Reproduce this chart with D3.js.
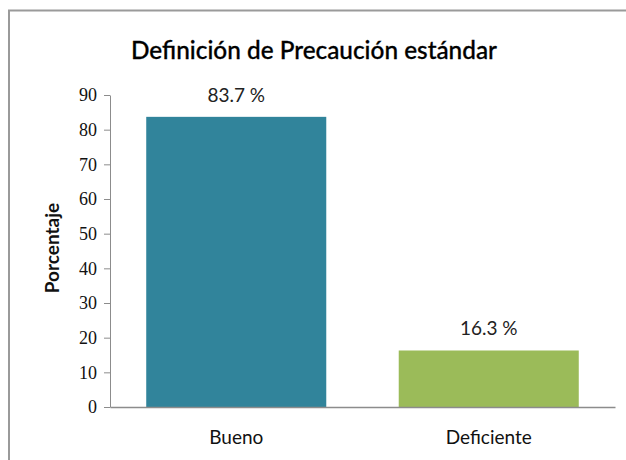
<!DOCTYPE html>
<html>
<head>
<meta charset="utf-8">
<script src="https://cdn.jsdelivr.net/npm/d3@7"></script>
<style>
  body { margin: 0; background: #fff; }
</style>
</head>
<body>
<svg width="626" height="460"></svg>
<script>
const categories = ['Bueno', 'Deficiente']
const values = [83.7, 16.3]
const labels = ['83.7 %', '16.3 %']
const yTicks = [0, 10, 20, 30, 40, 50, 60, 70, 80, 90]
const colors = ['#31849B', '#9BBB59']

const width = 626
const height = 460
const margin = { top: 95, right: 11, bottom: 53, left: 110 }

const svg = d3.select('svg')

// outer frame (runs off right and bottom)
svg.append('rect')
  .attr('x', 9)
  .attr('y', 10.5)
  .attr('width', 640)
  .attr('height', 480)
  .attr('fill', 'none')
  .attr('stroke', '#9a9a9a')
  .attr('stroke-width', 2)

// title
svg.append('text')
  .attr('x', 314)
  .attr('y', 59)
  .attr('text-anchor', 'middle')
  .attr('font-family', 'Lato, sans-serif')
  .attr('font-size', 24)
  .attr('font-weight', 500)
  .attr('fill', '#000')
  .attr('stroke', '#000')
  .attr('stroke-width', 0.3)
  .attr('textLength', 366)
  .attr('lengthAdjust', 'spacingAndGlyphs')
  .text('Definición de Precaución estándar')

// scales
const xScale = d3.scaleBand()
  .domain(categories)
  .range([margin.left, width - margin.right])
  .paddingInner(0.287)
  .paddingOuter(0.1435)

const yScale = d3.scaleLinear()
  .domain([0, 90])
  .range([height - margin.bottom, margin.top])

// bars
svg.selectAll('rect.bar')
  .data(values)
  .enter().append('rect')
  .attr('class', 'bar')
  .attr('x', (d, i) => xScale(categories[i]))
  .attr('y', d => yScale(d))
  .attr('width', xScale.bandwidth())
  .attr('height', d => yScale(0) - yScale(d))
  .attr('fill', (d, i) => colors[i])

// value labels
svg.selectAll('text.value')
  .data(values)
  .enter().append('text')
  .attr('class', 'value')
  .attr('x', (d, i) => xScale(categories[i]) + xScale.bandwidth() / 2)
  .attr('y', d => yScale(d) - 15)
  .attr('text-anchor', 'middle')
  .attr('font-family', 'Lato, sans-serif')
  .attr('font-size', 19)
  .attr('fill', '#222')
  .text((d, i) => labels[i])

// y axis
const yAxis = d3.axisLeft(yScale)
  .tickValues(yTicks)
  .tickSize(6)
  .tickSizeOuter(0)

const gy = svg.append('g')
  .attr('transform', `translate(${margin.left},0)`)
  .call(yAxis)

gy.select('.domain').attr('stroke', '#8c8c8c')
gy.selectAll('.tick line').attr('stroke', '#8c8c8c')
gy.selectAll('.tick text')
  .attr('x', -13)
  .attr('font-family', '"Liberation Serif", serif')
  .attr('font-size', 18)
  .attr('fill', '#111')

// x axis
const xAxis = d3.axisBottom(xScale)
  .tickSize(0)
  .tickSizeOuter(0)

const gx = svg.append('g')
  .attr('transform', `translate(0,${height - margin.bottom})`)
  .call(xAxis)

gx.select('.domain').attr('stroke', '#8c8c8c').attr('stroke-width', 1.5)
gx.selectAll('.tick text')
  .attr('y', 24)
  .attr('font-family', 'Lato, sans-serif')
  .attr('font-size', 19)
  .attr('fill', '#111')

// y axis title
svg.append('text')
  .attr('transform', 'translate(59,248) rotate(-90)')
  .attr('text-anchor', 'middle')
  .attr('font-family', 'Lato, sans-serif')
  .attr('font-weight', 'bold')
  .attr('font-size', 19)
  .attr('fill', '#111')
  .text('Porcentaje')
</script>
</body>
</html>
